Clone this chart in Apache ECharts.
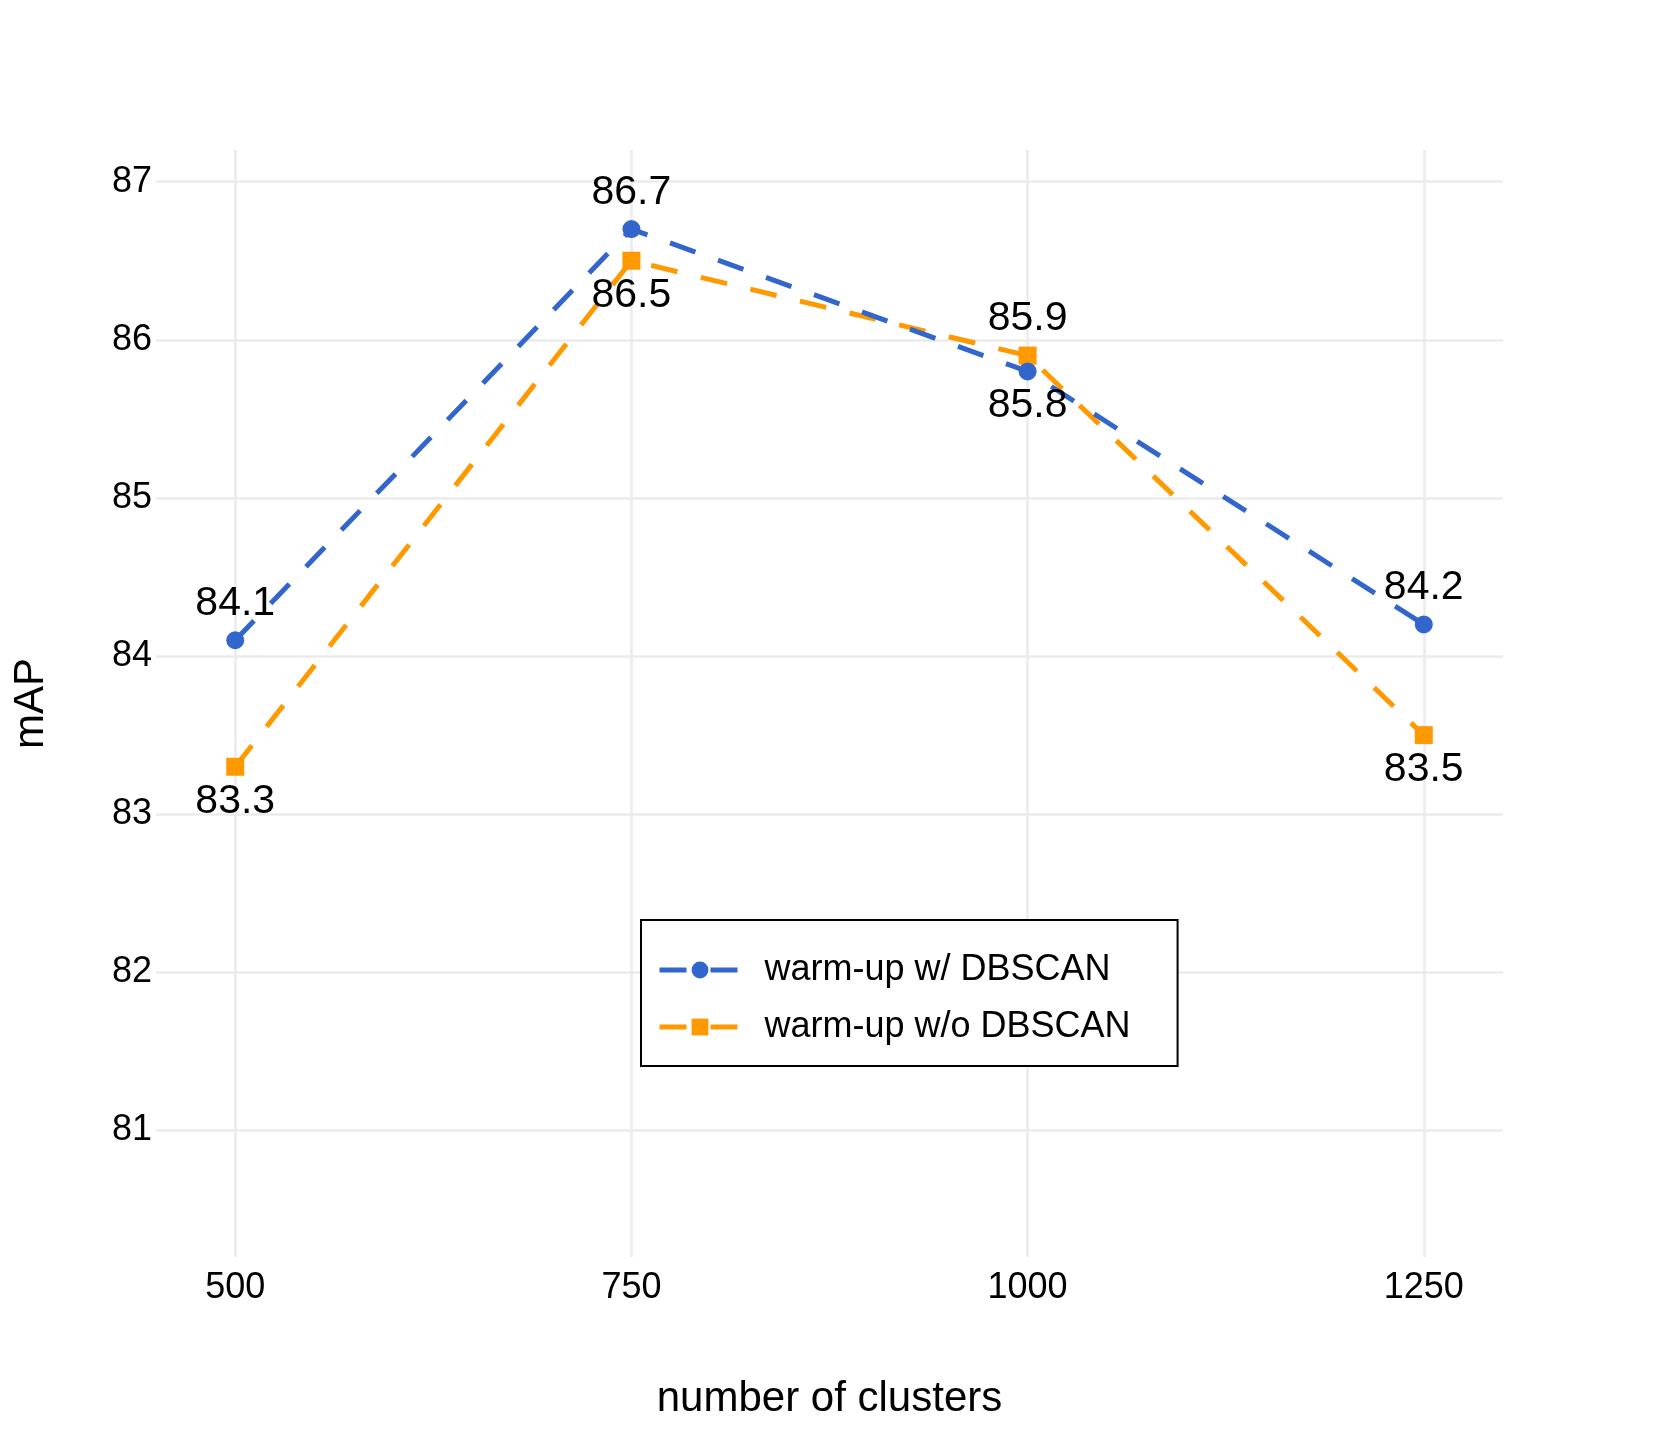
<!DOCTYPE html>
<html>
<head>
<meta charset="utf-8">
<script src="https://cdn.jsdelivr.net/npm/echarts@6/dist/echarts.min.js"></script>
<style>
html,body{margin:0;padding:0;background:#fff;}
#chart{width:1659px;height:1437px;}
</style>
</head>
<body>
<div id="chart"></div>
<script>
var clusters = [500, 750, 1000, 1250];
var withDBSCAN = [84.1, 86.7, 85.8, 84.2];
var withoutDBSCAN = [83.3, 86.5, 85.9, 83.5];
var withLabelPos = ['top', 'top', 'bottom', 'top'];
var withoutLabelPos = ['bottom', 'bottom', 'top', 'bottom'];
var seriesNames = ['warm-up w/ DBSCAN', 'warm-up w/o DBSCAN'];
var xTitle = 'number of clusters';
var yTitle = 'mAP';

var FONT = "'Liberation Sans', Arial, Helvetica, sans-serif";
var BLUE = '#3366CC';
var ORANGE = '#FF9900';

function buildData(xs, ys, pos) {
  return xs.map(function (x, i) {
    return {
      value: [x, ys[i]],
      label: { position: pos[i], distance: pos[i] === 'top' ? 7 : 5 }
    };
  });
}

var chart = echarts.init(document.getElementById('chart'), null, { renderer: 'canvas' });
chart.setOption({
  backgroundColor: '#fff',
  animation: false,
  grid: { left: 156, right: 156, top: 150, bottom: 180, containLabel: false },
  xAxis: {
    type: 'value',
    min: 450, max: 1300,
    minInterval: 250, maxInterval: 250,
    name: xTitle,
    nameLocation: 'middle',
    nameGap: 121,
    nameTextStyle: { fontFamily: FONT, fontSize: 42, color: '#000' },
    axisLine: { show: false },
    axisTick: { show: false },
    axisLabel: {
      margin: 13, fontFamily: FONT, fontSize: 36, color: '#000',
      showMinLabel: false, showMaxLabel: false,
      formatter: function (v) { return (v % 250 === 0 && v >= 500 && v <= 1250) ? String(v) : ''; }
    },
    splitLine: { show: true, showMinLine: false, showMaxLine: false, lineStyle: { color: '#ebebeb', width: 2.5 } }
  },
  yAxis: {
    type: 'value',
    min: 80.2, max: 87.2,
    minInterval: 1, maxInterval: 1,
    name: yTitle,
    nameLocation: 'middle',
    nameGap: 104,
    nameTextStyle: { fontFamily: FONT, fontSize: 42, color: '#000' },
    axisLine: { show: false },
    axisTick: { show: false },
    axisLabel: {
      margin: 4, fontFamily: FONT, fontSize: 36, color: '#000',
      showMinLabel: false, showMaxLabel: false,
      formatter: function (v) { return Math.abs(v - Math.round(v)) < 1e-6 ? String(Math.round(v)) : ''; }
    },
    splitLine: { show: true, showMinLine: false, showMaxLine: false, lineStyle: { color: '#ebebeb', width: 2.5 } }
  },
  legend: {
    orient: 'vertical',
    left: 641, top: 920,
    backgroundColor: '#fff',
    borderColor: '#000',
    borderWidth: 2,
    borderRadius: 0,
    padding: [32, 47, 21, 16],
    itemWidth: 81,
    itemHeight: 21,
    itemGap: 21,
    lineStyle: { width: 5 },
    textStyle: { fontFamily: FONT, fontSize: 36, color: '#000', padding: [0, 0, 0, 19] },
    data: seriesNames
  },
  series: [
    {
      name: seriesNames[0],
      type: 'line',
      data: buildData(clusters, withDBSCAN, withLabelPos),
      symbol: 'circle',
      symbolSize: 18,
      itemStyle: { color: BLUE },
      lineStyle: { color: BLUE, width: 5, type: [27, 24] },
      label: { show: true, fontFamily: FONT, fontSize: 41, color: '#000' },
      z: 3
    },
    {
      name: seriesNames[1],
      type: 'line',
      data: buildData(clusters, withoutDBSCAN, withoutLabelPos),
      symbol: 'rect',
      symbolSize: 18,
      itemStyle: { color: ORANGE },
      lineStyle: { color: ORANGE, width: 5, type: [27, 24] },
      label: { show: true, fontFamily: FONT, fontSize: 41, color: '#000' },
      z: 2
    }
  ]
});
</script>
</body>
</html>
